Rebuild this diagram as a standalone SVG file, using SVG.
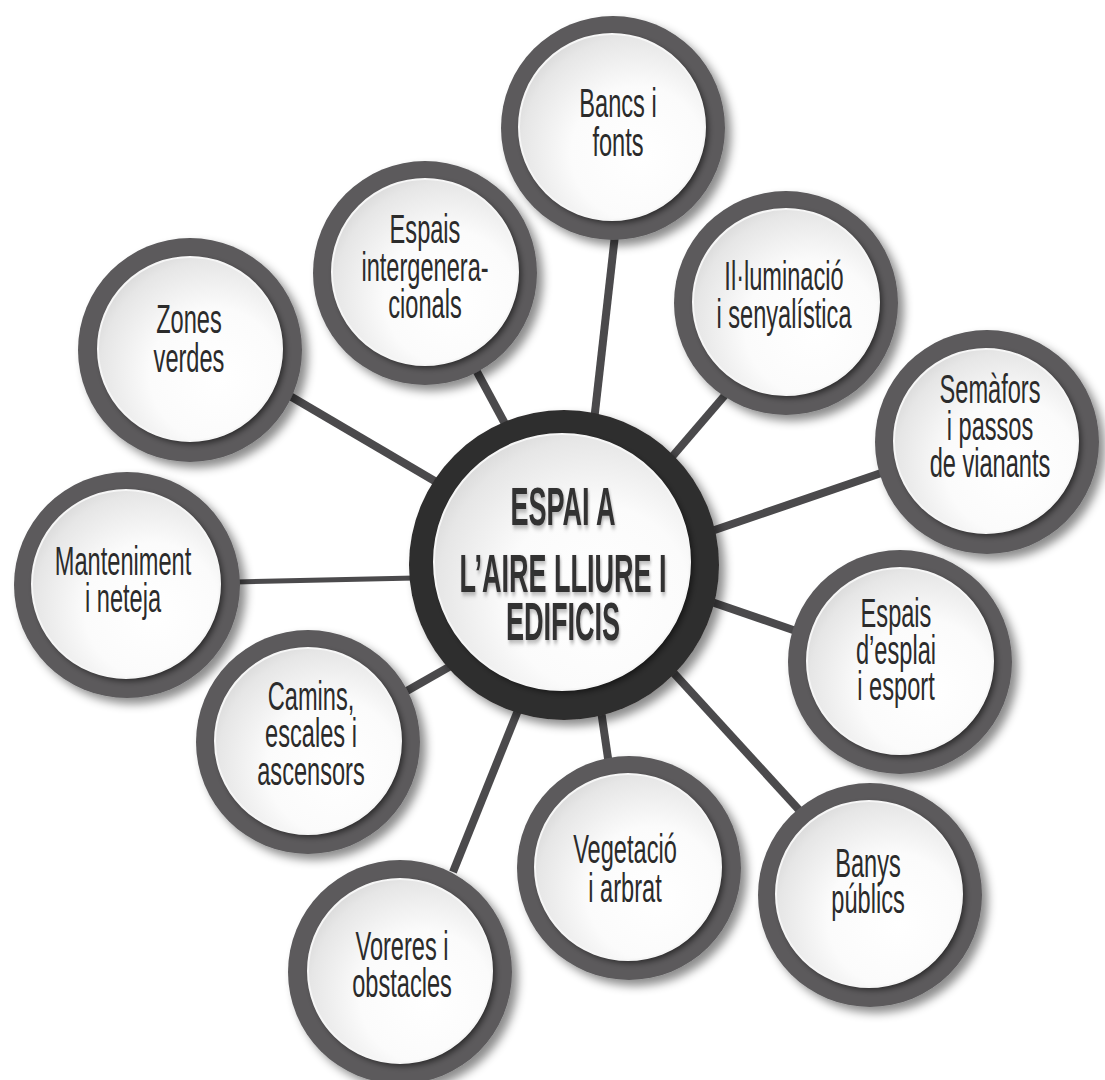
<svg xmlns="http://www.w3.org/2000/svg" width="1105" height="1080" viewBox="0 0 1105 1080">
  <defs>
    <radialGradient id="disc" cx="0.62" cy="0.62" r="0.72" fx="0.66" fy="0.66">
      <stop offset="0" stop-color="#ffffff"/>
      <stop offset="0.5" stop-color="#fbfbfb"/>
      <stop offset="0.85" stop-color="#e6e6e6"/>
      <stop offset="1" stop-color="#d4d4d4"/>
    </radialGradient>
    <filter id="ringShadow" x="-30%" y="-30%" width="160%" height="160%">
      <feDropShadow dx="6" dy="6" stdDeviation="5" flood-color="#000" flood-opacity="0.45"/>
    </filter>
    <filter id="discShadow" x="-30%" y="-30%" width="160%" height="160%">
      <feDropShadow dx="3" dy="3" stdDeviation="3" flood-color="#000" flood-opacity="0.55"/>
    </filter>
    <filter id="textShadow" x="-20%" y="-20%" width="140%" height="140%">
      <feDropShadow dx="2" dy="3" stdDeviation="2.5" flood-color="#000" flood-opacity="0.3"/>
    </filter>
  </defs>
  <style>
    .ring { fill: #5b5a5c; filter: url(#ringShadow); }
    .cring { fill: #2f2d2d; filter: url(#ringShadow); }
    .rim { fill: none; stroke: #f6f6f6; stroke-width: 2; }
    .disc { fill: url(#disc); filter: url(#discShadow); }
    .lbl { font-family: "Liberation Sans", Arial, sans-serif; font-size: 40px; fill: #2b2b2b; text-anchor: middle; }
    .clbl { font-family: "Liberation Sans", Arial, sans-serif; font-size: 54px; font-weight: bold; fill: #333132; text-anchor: middle; filter: url(#textShadow); }
    .con { stroke: #4b4a4c; stroke-width: 8; fill: none; }
  </style>
  <rect width="1105" height="1080" fill="#ffffff"/>

  <g id="connectors">
    <line class="con" x1="615" y1="235" x2="593" y2="430"/>
    <line class="con" x1="476" y1="370" x2="510" y2="433"/>
    <line class="con" x1="290" y1="396" x2="450" y2="490"/>
    <line class="con" x1="732" y1="387" x2="665" y2="465"/>
    <line class="con" x1="890" y1="470" x2="700" y2="535"/>
    <line class="con" x1="235" y1="582" x2="415" y2="578" style="stroke-width:5"/>
    <line class="con" x1="796" y1="631" x2="700" y2="598"/>
    <line class="con" x1="800" y1="811" x2="660" y2="658"/>
    <line class="con" x1="609" y1="765" x2="598" y2="690"/>
    <line class="con" x1="453" y1="872" x2="525" y2="693"/>
    <line class="con" x1="405" y1="692" x2="470" y2="655"/>
  </g>

  <g id="node-bancs">
    <circle class="ring" cx="613" cy="128" r="112"/>
    <circle class="disc" cx="612" cy="127" r="93"/>
    <circle class="rim" cx="612" cy="127" r="93"/>
    <text class="lbl" transform="translate(618 0) scale(0.59 1)"><tspan x="0" y="117">Bancs i</tspan><tspan x="0" y="156">fonts</tspan></text>
  </g>

  <g id="node-intergeneracionals">
    <circle class="ring" cx="425" cy="273" r="112"/>
    <circle class="disc" cx="425" cy="272" r="93"/>
    <circle class="rim" cx="425" cy="272" r="93"/>
    <text class="lbl" transform="translate(425 0) scale(0.59 1)"><tspan x="0" y="243">Espais</tspan><tspan x="0" y="281">intergenera-</tspan><tspan x="0" y="318">cionals</tspan></text>
  </g>

  <g id="node-zones">
    <circle class="ring" cx="190" cy="350" r="112"/>
    <circle class="disc" cx="190" cy="349" r="92"/>
    <circle class="rim" cx="190" cy="349" r="92"/>
    <text class="lbl" transform="translate(189 0) scale(0.59 1)"><tspan x="0" y="333">Zones</tspan><tspan x="0" y="372">verdes</tspan></text>
  </g>

  <g id="node-illuminacio">
    <circle class="ring" cx="786" cy="303" r="112"/>
    <circle class="disc" cx="786" cy="302" r="93"/>
    <circle class="rim" cx="786" cy="302" r="93"/>
    <text class="lbl" transform="translate(784 0) scale(0.59 1)"><tspan x="0" y="290">Il·luminació</tspan><tspan x="0" y="328">i senyalística</tspan></text>
  </g>

  <g id="node-semafors">
    <circle class="ring" cx="987" cy="442" r="112"/>
    <circle class="disc" cx="986" cy="441" r="92"/>
    <circle class="rim" cx="986" cy="441" r="92"/>
    <text class="lbl" transform="translate(990 0) scale(0.59 1)"><tspan x="0" y="403">Semàfors</tspan><tspan x="0" y="440">i passos</tspan><tspan x="0" y="477">de vianants</tspan></text>
  </g>

  <g id="node-manteniment">
    <circle class="ring" cx="127" cy="585" r="113"/>
    <circle class="disc" cx="126" cy="584" r="94"/>
    <circle class="rim" cx="126" cy="584" r="94"/>
    <text class="lbl" transform="translate(123 0) scale(0.59 1)"><tspan x="0" y="575">Manteniment</tspan><tspan x="0" y="612">i neteja</tspan></text>
  </g>

  <g id="node-esplai">
    <circle class="ring" cx="900" cy="662" r="112"/>
    <circle class="disc" cx="900" cy="661" r="93"/>
    <circle class="rim" cx="900" cy="661" r="93"/>
    <text class="lbl" transform="translate(896 0) scale(0.59 1)"><tspan x="0" y="627">Espais</tspan><tspan x="0" y="664">d’esplai</tspan><tspan x="0" y="700">i esport</tspan></text>
  </g>

  <g id="node-camins">
    <circle class="ring" cx="308" cy="742" r="112"/>
    <circle class="disc" cx="308" cy="741" r="93"/>
    <circle class="rim" cx="308" cy="741" r="93"/>
    <text class="lbl" transform="translate(311 0) scale(0.59 1)"><tspan x="0" y="710">Camins,</tspan><tspan x="0" y="747">escales i</tspan><tspan x="0" y="785">ascensors</tspan></text>
  </g>

  <g id="node-vegetacio">
    <circle class="ring" cx="629" cy="868" r="112"/>
    <circle class="disc" cx="628" cy="867" r="93"/>
    <circle class="rim" cx="628" cy="867" r="93"/>
    <text class="lbl" transform="translate(625 0) scale(0.59 1)"><tspan x="0" y="863">Vegetació</tspan><tspan x="0" y="902">i arbrat</tspan></text>
  </g>

  <g id="node-banys">
    <circle class="ring" cx="870" cy="895" r="112"/>
    <circle class="disc" cx="869" cy="894" r="93"/>
    <circle class="rim" cx="869" cy="894" r="93"/>
    <text class="lbl" transform="translate(868 0) scale(0.59 1)"><tspan x="0" y="877">Banys</tspan><tspan x="0" y="913">públics</tspan></text>
  </g>

  <g id="node-voreres">
    <circle class="ring" cx="400" cy="972" r="112"/>
    <circle class="disc" cx="400" cy="971" r="92"/>
    <circle class="rim" cx="400" cy="971" r="92"/>
    <text class="lbl" transform="translate(402 0) scale(0.59 1)"><tspan x="0" y="960">Voreres i</tspan><tspan x="0" y="997">obstacles</tspan></text>
  </g>

  <g id="node-center">
    <circle class="cring" cx="564" cy="565" r="155"/>
    <circle class="disc" cx="562" cy="562" r="128"/>
    <circle class="rim" cx="562" cy="562" r="128"/>
    <text class="clbl" transform="translate(563 0) scale(0.5 1)"><tspan x="0" y="525">ESPAI A</tspan><tspan x="0" y="592">L’AIRE LLIURE I</tspan><tspan x="0" y="640">EDIFICIS</tspan></text>
  </g>
</svg>
